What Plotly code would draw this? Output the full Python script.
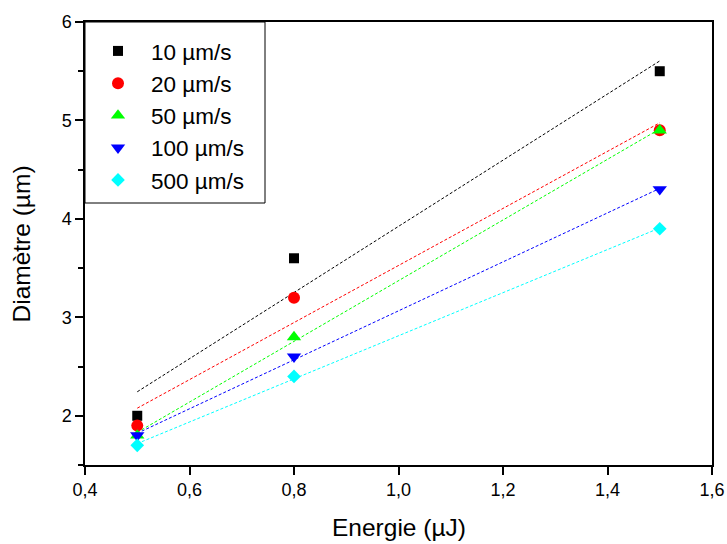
import numpy as np
import plotly.graph_objects as go

energy = [0.5, 0.8, 1.5]
series_names = ["10 µm/s", "20 µm/s", "50 µm/s", "100 µm/s", "500 µm/s"]
d10 = [2.0, 3.6, 5.5]
d20 = [1.9, 3.2, 4.9]
d50 = [1.8, 2.8, 4.9]
d100 = [1.8, 2.6, 4.3]
d500 = [1.7, 2.4, 3.9]
x_ticks = [0.4, 0.6, 0.8, 1.0, 1.2, 1.4, 1.6]
y_ticks = [2, 3, 4, 5, 6]

values = [d10, d20, d50, d100, d500]
colors = ["#000000", "#FF0000", "#00FF00", "#0000FF", "#00FFFF"]
symbols = ["square", "circle", "triangle-up", "triangle-down", "diamond"]
sizes = [10, 12, 12.5, 12.5, 10.5]

FONT = "Arial, Liberation Sans, sans-serif"

fig = go.Figure()

# linear fit lines
for vals, col in zip(values, colors):
    a, b = np.polyfit(energy, vals, 1)
    xs = [min(energy), max(energy)]
    fig.add_trace(go.Scatter(
        x=xs, y=[a * v + b for v in xs], mode="lines",
        line=dict(color=col, width=1, dash="3px,2px"),
        showlegend=False, hoverinfo="skip"))

for i, (name, vals, col, sym, sz) in enumerate(zip(series_names, values, colors, symbols, sizes)):
    fig.add_trace(go.Scatter(
        x=energy, y=vals, mode="markers", name=name,
        legendgroup=f"g{i}",
        marker=dict(color=col, symbol=sym, size=sz, line=dict(width=0))))

axis_common = dict(
    showline=True, linecolor="black", linewidth=1.5, mirror=True,
    ticks="outside", ticklen=8, tickwidth=1.5, tickcolor="black",
    showgrid=False, zeroline=False, automargin=False,
    tickfont=dict(family=FONT, size=18, color="black"),
)

fig.update_layout(
    width=727, height=544,
    margin=dict(l=85, r=15, t=22, b=79),
    paper_bgcolor="white", plot_bgcolor="white",
    separators=",.",
    font=dict(family=FONT, color="black"),
    xaxis=dict(range=[0.4, 1.6], tickvals=x_ticks, tickformat=".1f", **axis_common),
    yaxis=dict(
        range=[1.5, 6], tickvals=y_ticks, tickformat="d",
        minor=dict(dtick=0.5, ticklen=5, tickwidth=1.5, tickcolor="black", ticks="outside"),
        **axis_common),
    legend=dict(
        x=0, y=1, xanchor="left", yanchor="top",
        bgcolor="rgba(0,0,0,0)", borderwidth=0,
        font=dict(family=FONT, size=22.5, color="black"),
        itemwidth=56, tracegroupgap=0,
        title=dict(text=" ", font=dict(size=6)),
    ),
    showlegend=True,
    shapes=[
        dict(type="rect", xref="paper", yref="paper", x0=0, x1=0.2871, y0=0.5914, y1=1,
             line=dict(color="black", width=1), fillcolor="white", layer="above"),
    ],
    annotations=[
        dict(text="Energie (µJ)", xref="paper", yref="paper", x=0.5, y=-0.14,
             xanchor="center", yanchor="middle", showarrow=False,
             font=dict(family=FONT, size=24.5, color="black")),
        dict(text="Diamètre (µm)", xref="paper", yref="paper", x=-0.1005, y=0.5,
             xanchor="center", yanchor="middle", textangle=-90, showarrow=False,
             font=dict(family=FONT, size=24.5, color="black")),
    ],
)

fig.write_html(
    "out.html",
    config={"displayModeBar": False},
    post_script="document.body.style.margin='0';document.body.style.padding='0';document.body.style.overflow='hidden';",
)
